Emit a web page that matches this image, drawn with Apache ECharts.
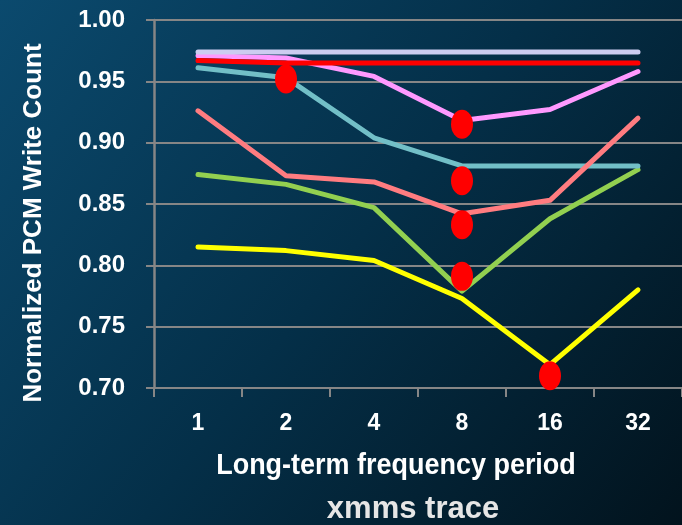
<!DOCTYPE html>
<html>
<head>
<meta charset="utf-8">
<script src="https://cdn.jsdelivr.net/npm/echarts@6/dist/echarts.min.js"></script>
<style>
  html, body { margin: 0; padding: 0; background: #03202f; }
  #chart { width: 682px; height: 525px; }
</style>
</head>
<body>
<div id="chart"></div>
<script>
// Long-term frequency periods (x categories)
const periods = ['1', '2', '4', '8', '16', '32'];

// Normalized PCM write counts per configuration
const lavenderSeries = [0.974, 0.974, 0.974, 0.974, 0.974, 0.974];
const redSeries      = [0.967, 0.965, 0.965, 0.965, 0.965, 0.965];
const pinkSeries     = [0.971, 0.969, 0.954, 0.918, 0.927, 0.958];
const cyanSeries     = [0.961, 0.953, 0.904, 0.881, 0.881, 0.881];
const salmonSeries   = [0.926, 0.873, 0.868, 0.842, 0.853, 0.920];
const greenSeries    = [0.874, 0.866, 0.847, 0.779, 0.838, 0.878];
const yellowSeries   = [0.815, 0.812, 0.804, 0.773, 0.719, 0.780];

// Highlighted best-period markers
const markerPeriods = ['2', '8', '8', '8', '8', '16'];
const markerValues  = [0.952, 0.915, 0.869, 0.833, 0.791, 0.710];

// Y axis ticks
const yMin = 0.70, yMax = 1.00, yStep = 0.05;

const FONT = '"Liberation Sans", Arial, sans-serif';
const GRID_GRAY = '#868686';

const chart = echarts.init(document.getElementById('chart'), null, { renderer: 'canvas' });

function lineSeries(name, data, color) {
  return {
    name: name,
    type: 'line',
    data: data,
    symbol: 'none',
    smooth: false,
    lineStyle: { color: color, width: 5, cap: 'round', join: 'round' },
    z: 3
  };
}

const option = {
  backgroundColor: new echarts.graphic.LinearGradient(0, 0, 1, 1, [
    { offset: 0, color: '#0b4a6e' },
    { offset: 0.5, color: '#042f48' },
    { offset: 1, color: '#02131d' }
  ]),
  animation: false,
  grid: { left: 154, top: 20, right: -7, height: 368, containLabel: false },
  xAxis: {
    type: 'category',
    data: periods,
    boundaryGap: true,
    axisLine: { show: true, lineStyle: { color: GRID_GRAY, width: 2 } },
    axisTick: { show: true, length: 9, lineStyle: { color: GRID_GRAY, width: 2 } },
    axisLabel: { color: '#ffffff', fontWeight: 'bold', fontSize: 23, fontFamily: FONT, margin: 24 },
    splitLine: { show: false }
  },
  yAxis: {
    type: 'value',
    min: yMin,
    max: yMax,
    interval: yStep,
    axisLine: { show: true, lineStyle: { color: GRID_GRAY, width: 2.5 } },
    axisTick: { show: true, length: 8, lineStyle: { color: GRID_GRAY, width: 2 } },
    axisLabel: {
      color: '#ffffff', fontWeight: 'bold', fontSize: 24, fontFamily: FONT, margin: 29,
      formatter: function (v) { return v.toFixed(2); }
    },
    splitLine: { show: true, lineStyle: { color: GRID_GRAY, width: 2 } }
  },
  series: [
    lineSeries('yellow', yellowSeries, '#ffff00'),
    lineSeries('green', greenSeries, '#92d050'),
    lineSeries('cyan', cyanSeries, '#72bfc7'),
    lineSeries('salmon', salmonSeries, '#ff7c80'),
    lineSeries('pink', pinkSeries, '#ff99ff'),
    lineSeries('red', redSeries, '#ff0000'),
    lineSeries('lavender', lavenderSeries, '#ccccf0'),
    {
      name: 'best',
      type: 'scatter',
      data: markerPeriods.map(function (p, i) { return [p, markerValues[i]]; }),
      symbol: 'circle',
      symbolSize: [22, 29],
      itemStyle: { color: '#ff0000', opacity: 1, borderWidth: 0 },
      z: 10
    }
  ],
  graphic: [
    {
      type: 'text',
      x: 34, y: 223,
      rotation: Math.PI / 2,
      style: {
        text: 'Normalized PCM Write Count',
        font: 'bold 26px ' + FONT,
        fill: '#ffffff',
        textAlign: 'center',
        textVerticalAlign: 'middle'
      }
    },
    {
      type: 'text',
      x: 396, y: 466,
      scaleX: 0.93,
      style: {
        text: 'Long-term frequency period',
        font: 'bold 29px ' + FONT,
        fill: '#ffffff',
        textAlign: 'center',
        textVerticalAlign: 'middle'
      }
    },
    {
      type: 'text',
      x: 413, y: 509,
      style: {
        text: 'xmms trace',
        font: 'bold 31px ' + FONT,
        fill: '#e6e6e6',
        textAlign: 'center',
        textVerticalAlign: 'middle'
      }
    }
  ]
};

chart.setOption(option);
</script>
</body>
</html>
